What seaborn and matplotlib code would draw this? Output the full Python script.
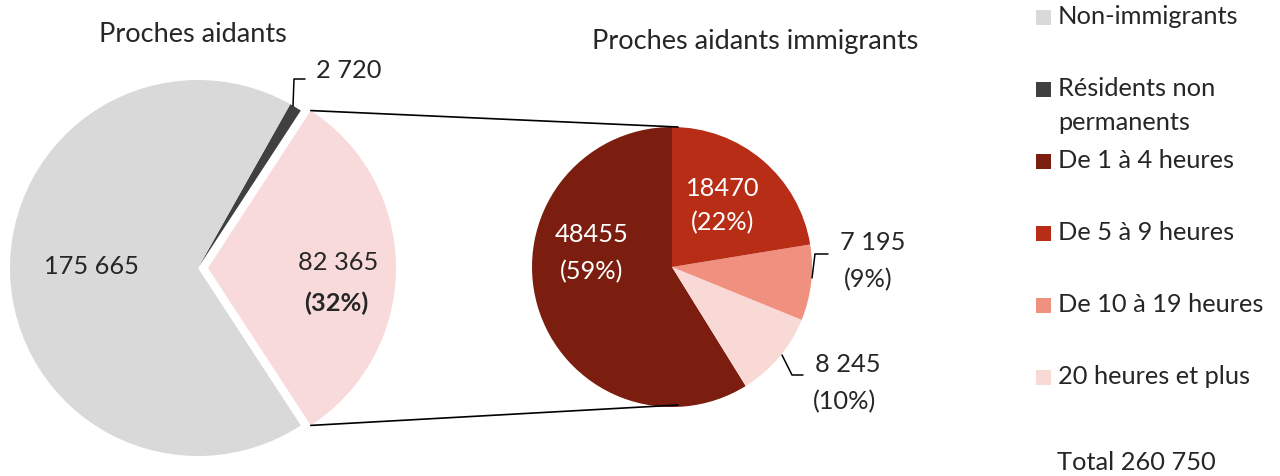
import numpy as np
import matplotlib
matplotlib.use("Agg")
import matplotlib.pyplot as plt
from matplotlib.patches import Rectangle
import seaborn as sns

# ---- data ----
main_labels = ["Non-immigrants", "Résidents non\npermanents", "Immigrants"]
main_values = [175665, 2720, 82365]
main_colors = ["#D9D9D9", "#404040", "#F8DADA"]

sub_labels = ["De 1 à 4 heures", "De 5 à 9 heures", "De 10 à 19 heures", "20 heures et plus"]
sub_values = [48455, 18470, 7195, 8245]
sub_colors = ["#7B1E0F", "#B72D16", "#F0907F", "#F9D9D5"]

title_left = "Proches aidants"
title_right = "Proches aidants immigrants"
total_label = "Total 260 750"

sns.set_theme(style="white")
plt.rcParams['font.family'] = ['Lato', 'DejaVu Sans']

W, H = 1280, 476
fig = plt.figure(figsize=(W / 100, H / 100), dpi=100)
ax = fig.add_axes([0, 0, 1, 1])

def Y(y):
    return H - y

FS = 18.3
FT = 19.5
total = sum(main_values)
imm = main_values[2]

# ---- left pie: immigrants wedge centred on 0°, exploded ----
L_c = (198, Y(268))
L_r = 188
gap = 10
imm_frac = imm / total
start_left = -imm_frac * 180
left_vals = [main_values[2], main_values[1], main_values[0]]
left_cols = [main_colors[2], main_colors[1], main_colors[0]]
ax.pie(left_vals, colors=left_cols, startangle=start_left, counterclock=True,
       center=L_c, radius=L_r, explode=[gap, 0, 0],
       wedgeprops=dict(linewidth=0), frame=False)

# ---- right pie ----
R_c = (672, Y(267))
R_r = 140
right_vals = [sub_values[0], sub_values[3], sub_values[2], sub_values[1]]
right_cols = [sub_colors[0], sub_colors[3], sub_colors[2], sub_colors[1]]
ax.pie(right_vals, colors=right_cols, startangle=90, counterclock=True,
       center=R_c, radius=R_r, wedgeprops=dict(linewidth=0), frame=False)

# ---- connector lines ----
half = np.deg2rad(imm_frac * 180)
apex = (L_c[0] + gap, L_c[1])
top_l = (apex[0] + L_r * np.cos(half), apex[1] + L_r * np.sin(half))
bot_l = (apex[0] + L_r * np.cos(half), apex[1] - L_r * np.sin(half))
ax.plot([top_l[0], R_c[0] + 6], [top_l[1], R_c[1] + R_r], color="black", lw=1.2)
ax.plot([bot_l[0], R_c[0] + 6], [bot_l[1], R_c[1] - R_r + 2], color="black", lw=1.2)

def fmt(v):
    return f"{v:,}".replace(",", " ")

def pct(v, t):
    return f"({round(100 * v / t)}%)"

# ---- titles ----
ax.text(193, Y(35), title_left, ha="center", va="center", fontsize=FT)
ax.text(755, Y(42), title_right, ha="center", va="center", fontsize=FT)

# ---- left labels ----
ax.text(91, Y(267), fmt(main_values[0]), ha="center", va="center", fontsize=FS)
ax.text(338, Y(262), fmt(main_values[2]), ha="center", va="center", fontsize=FS)
ax.text(336, Y(303), pct(main_values[2], total), ha="center", va="center",
        fontsize=FS, fontweight="bold")
ax.plot([293, 294, 305], [Y(106), Y(79), Y(79)], color="black", lw=1.1)
ax.text(316, Y(70), fmt(main_values[1]), ha="left", va="center", fontsize=FS)

# ---- right labels ----
sub_t = sum(sub_values)
ax.text(592, Y(235), str(sub_values[0]), ha="center", va="center", fontsize=FS, color="white")
ax.text(592, Y(272), pct(sub_values[0], sub_t), ha="center", va="center", fontsize=FS, color="white")
ax.text(723, Y(188), str(sub_values[1]), ha="center", va="center", fontsize=FS, color="white")
ax.text(723, Y(223), pct(sub_values[1], sub_t), ha="center", va="center", fontsize=FS, color="white")

ax.plot([812, 815, 828], [Y(278), Y(254), Y(254)], color="black", lw=1.1)
ax.text(873, Y(243), fmt(sub_values[2]), ha="center", va="center", fontsize=FS)
ax.text(868, Y(280), pct(sub_values[2], sub_t), ha="center", va="center", fontsize=FS)

ax.plot([782, 792, 803], [Y(355), Y(375), Y(375)], color="black", lw=1.1)
ax.text(848, Y(365), fmt(sub_values[3]), ha="center", va="center", fontsize=FS)
ax.text(845, Y(402), pct(sub_values[3], sub_t), ha="center", va="center", fontsize=FS)

# ---- legend ----
leg_labels = [main_labels[0], main_labels[1]] + sub_labels
leg_colors = [main_colors[0], main_colors[1]] + sub_colors
leg_y = [17, 89, 161, 233, 305, 377]
for lab, col, yy in zip(leg_labels, leg_colors, leg_y):
    ax.add_patch(Rectangle((1036, Y(yy) - 7.5), 15, 15, facecolor=col, edgecolor="none"))
    ax.text(1058, Y(yy), lab.split("\n")[0], ha="left", va="center", fontsize=FS)
    if "\n" in lab:
        ax.text(1058, Y(yy + 33), lab.split("\n")[1], ha="left", va="center", fontsize=FS)
ax.text(1057, Y(463), total_label, ha="left", va="center", fontsize=FS)

ax.set_xlim(0, W)
ax.set_ylim(0, H)
ax.set_aspect("equal")
ax.axis("off")
fig.savefig("out.png", dpi=100)
